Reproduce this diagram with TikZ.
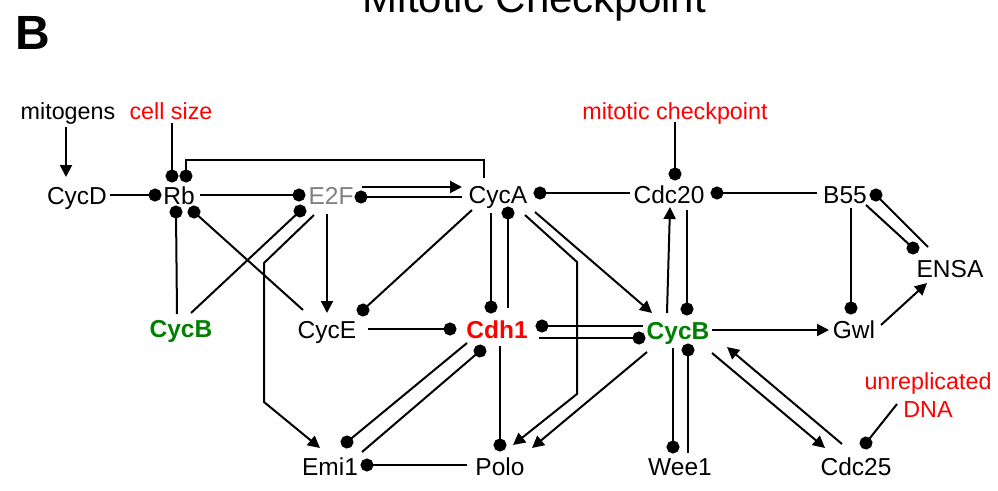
\documentclass[tikz,border=0pt]{standalone}
\usepackage{fontspec}
\setmainfont{Liberation Sans}
\usetikzlibrary{arrows.meta,calc}
\definecolor{cbgreen}{RGB}{0,128,0}
\definecolor{egray}{RGB}{128,128,128}
\begin{document}
\begin{tikzpicture}[x=1pt,y=-1pt,
  lbl/.style={anchor=base, inner sep=0pt, font=\fontsize{24.5}{29}\selectfont},
  ann/.style={anchor=base, inner sep=0pt, text=red, font=\fontsize{23.3}{28}\selectfont},
  act/.style={line width=2pt, -{Triangle[length=12pt,width=12pt]}},
  inh/.style={line width=2pt, -{Circle[length=13pt]}, shorten >=-6.5pt}]
\useasboundingbox (0,0) rectangle (998,490);
% labels
\node[lbl,font=\fontsize{48}{50}\selectfont\bfseries] (B) at (33,49) {B};
\node[lbl,font=\fontsize{42}{46}\selectfont] (title) at (534.5,12) {Mitotic Checkpoint};
\node[ann,text=black] (mito) at (68,119) {mitogens};
\node[ann] (cs) at (171,119) {cell size};
\node[ann] (mc) at (675,119) {mitotic checkpoint};
\node[ann,anchor=center,align=center] (ud) at (928,395) {unreplicated\\DNA};
% row 1
\node[lbl] (CycD) at (77,204) {CycD};
\node[lbl] (Rb) at (179,204) {Rb};
\node[lbl,text=egray] (E2F) at (331,204) {E2F};
\node[lbl] (CycA) at (498,203) {CycA};
\node[lbl] (Cdc20) at (669,203) {Cdc20};
\node[lbl] (B55) at (845,203) {B55};
\node[lbl] (ENSA) at (950,277) {ENSA};
% row 2
\node[lbl,text=cbgreen,font=\fontsize{24.5}{29}\selectfont\bfseries] (CycBl) at (181,337) {CycB};
\node[lbl] (CycE) at (327,338) {CycE};
\node[lbl,text=red,font=\fontsize{24.5}{29}\selectfont\bfseries] (Cdh1) at (497,338) {Cdh1};
\node[lbl,text=cbgreen,font=\fontsize{24.5}{29}\selectfont\bfseries] (CycB) at (678,339) {CycB};
\node[lbl] (Gwl) at (854,338) {Gwl};
% row 3
\node[lbl] (Emi1) at (330,475) {Emi1};
\node[lbl] (Polo) at (500,475) {Polo};
\node[lbl] (Wee1) at (680,475) {Wee1};
\node[lbl] (Cdc25) at (856,475) {Cdc25};
% connectors
\draw[act] ($(mito.base)+(-2,8)$) -- ($(CycD.base)+(-11,-27)$);
\draw[inh] ($(cs.base)+(1,4)$) -- ($(Rb.base)+(-7,-28)$);
\draw[inh] ($(CycA.base)+(-14,-25)$) -- ++(0,-18) -| ($(Rb.base)+(7,-28)$);
\draw[inh] ($(CycD.base)+(33,-9)$) -- ($(Rb.base)+(-24,-9)$);
\draw[inh] ($(Rb.base)+(21,-9)$) -- ($(E2F.base)+(-32,-9)$);
\draw[act] ($(E2F.base)+(31,-17)$) -- ($(CycA.base)+(-36,-16)$);
\draw[inh] ($(CycA.base)+(-36,-6)$) -- ($(E2F.base)+(30,-7)$);
\draw[inh] ($(Cdc20.base)+(-39,-10)$) -- ($(CycA.base)+(42,-10)$);
\draw[inh] ($(mc.base)+(0,3)$) -- ($(Cdc20.base)+(6,-29)$);
\draw[inh] ($(B55.base)+(-28,-10)$) -- ($(Cdc20.base)+(48,-10)$);
\draw[inh] ($(ENSA.base)+(-22,-30)$) -- ($(B55.base)+(31,-8)$);
\draw[inh] ($(B55.base)+(21,2)$) -- ($(ENSA.base)+(-37,-29)$);
\draw[inh] ($(B55.base)+(6,5)$) -- ($(Gwl.base)+(-3,-30)$);
\draw[act] ($(Gwl.base)+(27,-13)$) -- ($(ENSA.base)+(-23,6)$);
\draw[act] ($(CycB.base)+(34,-9)$) -- ($(Gwl.base)+(-25,-8)$);
\draw[inh] ($(CycBl.base)+(-4,-23)$) -- ($(Rb.base)+(-3,8)$);
\draw[inh] ($(CycE.base)+(-24,-28)$) -- ($(Rb.base)+(15,8)$);
\draw[inh] ($(CycBl.base)+(10,-24)$) -- ($(E2F.base)+(-31,7)$);
\draw[act] ($(E2F.base)+(-17,11)$) -- ++(-50,48) -- ++(0,139) -- ($(Emi1.base)+(-10,-27)$);
\draw[act] ($(E2F.base)+(-4,10)$) -- ($(CycE.base)+(0,-25)$);
\draw[inh] ($(CycA.base)+(-26,7)$) -- ($(CycE.base)+(36,-28)$);
\draw[inh] ($(CycE.base)+(41,-9)$) -- ($(Cdh1.base)+(-47,-9)$);
\draw[inh] ($(CycA.base)+(-7,10)$) -- ($(Cdh1.base)+(-6,-31)$);
\draw[inh] ($(Cdh1.base)+(11,-30)$) -- ($(CycA.base)+(10,10)$);
\draw[act] ($(CycA.base)+(37,9)$) -- ($(CycB.base)+(-26,-26)$);
\draw[act] ($(CycA.base)+(27,12)$) -- ++(52,47) -- ++(0,132) -- ($(Polo.base)+(13,-30)$);
\draw[inh] ($(CycB.base)+(-35,-13)$) -- ($(Cdh1.base)+(45,-12)$);
\draw[inh] ($(Cdh1.base)+(42,0)$) -- ($(CycB.base)+(-39,-1)$);
\draw[act] ($(CycB.base)+(-11,-26)$) -- ($(Cdc20.base)+(1,4)$);
\draw[inh] ($(Cdc20.base)+(18,7)$) -- ($(CycB.base)+(9,-30)$);
\draw[inh] ($(CycB.base)+(-5,9)$) -- ($(Wee1.base)+(-7,-28)$);
\draw[inh] ($(Wee1.base)+(8,-22)$) -- ($(CycB.base)+(10,11)$);
\draw[act] ($(CycB.base)+(-31,13)$) -- ($(Polo.base)+(32,-27)$);
\draw[inh] ($(Cdh1.base)+(3,8)$) -- ($(Polo.base)+(0,-30)$);
\draw[inh] ($(Cdh1.base)+(-30,5)$) -- ($(Emi1.base)+(17,-33)$);
\draw[inh] ($(Emi1.base)+(32,-23)$) -- ($(Cdh1.base)+(-17,13)$);
\draw[inh] ($(Polo.base)+(-33,-10)$) -- ($(Emi1.base)+(37,-10)$);
\draw[act] ($(CycB.base)+(34,14)$) -- ($(Cdc25.base)+(-31,-27)$);
\draw[act] ($(Cdc25.base)+(-14,-31)$) -- ($(CycB.base)+(49,8)$);
\draw[inh] ($(ud.center)+(-31,9)$) -- ($(Cdc25.base)+(10,-32)$);
\end{tikzpicture}
\end{document}
